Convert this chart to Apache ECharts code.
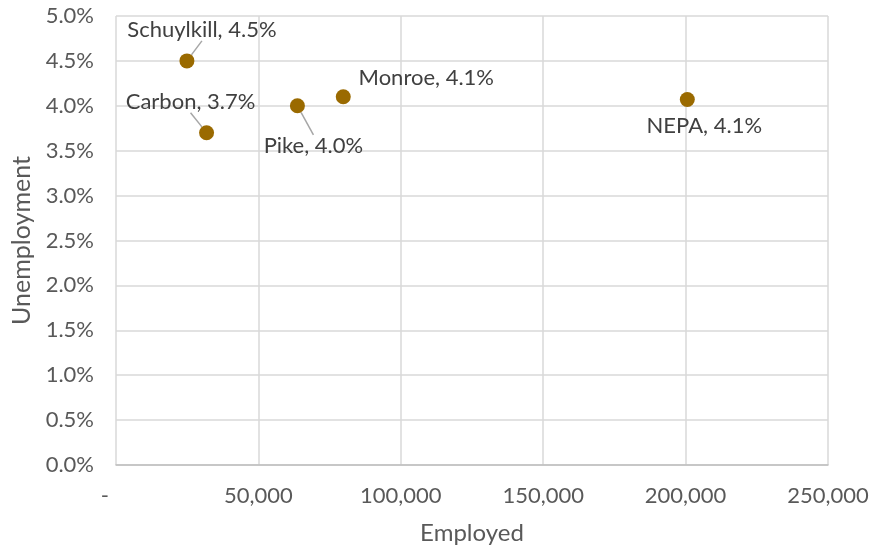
<!DOCTYPE html>
<html>
<head>
<meta charset="utf-8">
<script src="https://cdn.jsdelivr.net/npm/echarts@6/dist/echarts.min.js"></script>
<style>
  html, body { margin: 0; padding: 0; background: #fff; }
  #chart { width: 870px; height: 550px; }
</style>
</head>
<body>
<div id="chart"></div>
<script>
// Employment vs unemployment rate by county
const counties = ['Schuylkill', 'Carbon', 'Pike', 'Monroe', 'NEPA'];
const employed = [24900, 31800, 63700, 79800, 200600];
const unemployment = [0.0450, 0.0370, 0.0400, 0.0410, 0.0407];
// label offsets (pixels) from each point
const labelShift = [[15, -31], [-16, -31], [16, 40], [83, -19], [17, 26]];
const showLeader = [true, true, true, false, false];

const fontFamily = 'Lato, "Open Sans", sans-serif';
const textColor = '#595959';

const pts = counties.map((name, i) => ({
  name: name,
  value: [employed[i], unemployment[i]],
  labelText: name + ', ' + (unemployment[i] * 100).toFixed(1) + '%',
  labelLine: { show: showLeader[i] }
}));

const chart = echarts.init(document.getElementById('chart'));
chart.setOption({
  animation: false,
  grid: {
    left: 116, right: 42, top: 16, bottom: 85,
    containLabel: false, outerBoundsMode: 'none'
  },
  xAxis: {
    type: 'value', min: 0, max: 250000, interval: 50000,
    name: 'Employed', nameLocation: 'middle', nameGap: 56,
    nameTextStyle: { fontFamily, fontSize: 24, color: textColor },
    axisLine: { show: true, lineStyle: { color: '#bfbfbf', width: 1.5 } },
    axisTick: { show: false },
    axisLabel: {
      fontFamily, fontSize: 22, color: textColor, margin: 20,
      formatter: v => v === 0 ? '-    ' : v.toLocaleString('en-US')
    },
    splitLine: { show: true, lineStyle: { color: '#d9d9d9', width: 1.5 } }
  },
  yAxis: {
    type: 'value', min: 0, max: 0.05, interval: 0.005,
    name: 'Unemployment', nameLocation: 'middle', nameGap: 82, nameRotate: 90,
    nameTextStyle: { fontFamily, fontSize: 25, color: textColor },
    axisLine: { show: false },
    axisTick: { show: false },
    axisLabel: {
      fontFamily, fontSize: 22, color: textColor, margin: 22,
      formatter: v => (v * 100).toFixed(1) + '%'
    },
    splitLine: { show: true, lineStyle: { color: '#d9d9d9', width: 1.5 } }
  },
  series: [{
    type: 'scatter',
    symbolSize: 15,
    itemStyle: { color: '#9a6a00', opacity: 1 },
    data: pts,
    label: {
      show: true, position: 'inside',
      fontFamily, fontSize: 22, color: '#404040',
      formatter: p => p.data.labelText
    },
    labelLine: { show: true, lineStyle: { color: '#a6a6a6', width: 1.5 } },
    labelLayout: p => ({
      dx: labelShift[p.dataIndex][0],
      dy: labelShift[p.dataIndex][1]
    }),
    emphasis: { disabled: true }
  }]
});
</script>
</body>
</html>
